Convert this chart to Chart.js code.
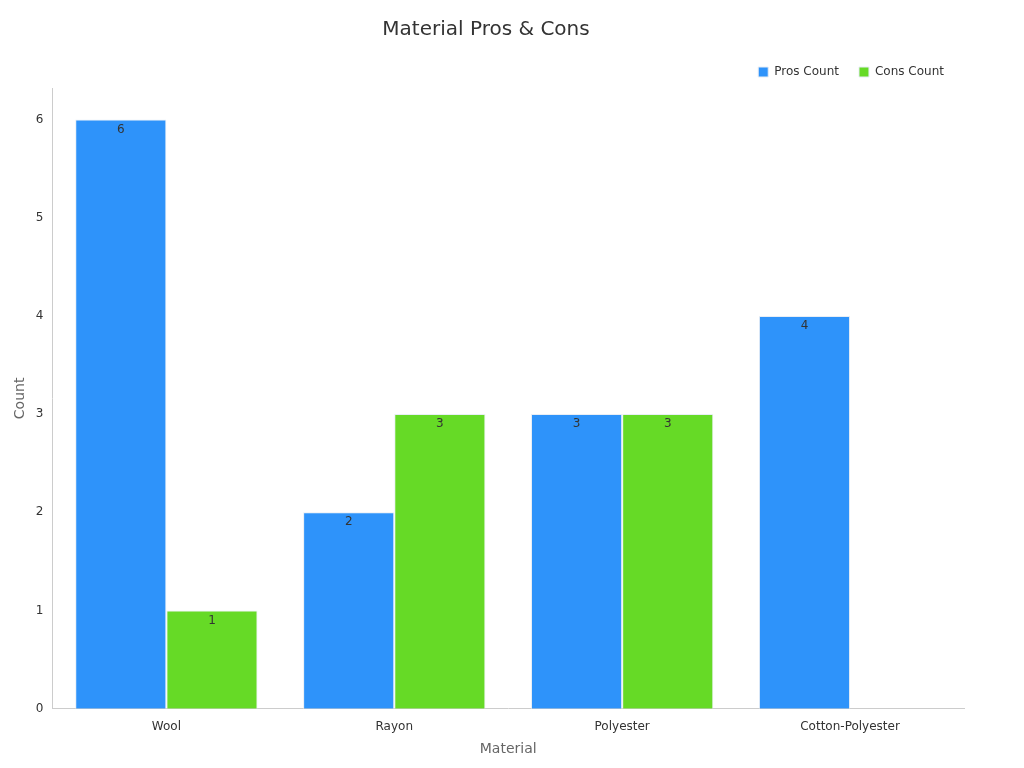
<!DOCTYPE html>
<html><head><meta charset="utf-8">
<script src="https://cdn.jsdelivr.net/npm/chart.js@4"></script>
<style>body{margin:0;background:#fff}#w{width:1024px;height:768px}</style>
</head><body><div id="w"><canvas id="c"></canvas></div>
<script>
const categories = ["Wool","Rayon","Polyester","Cotton-Polyester"];
const prosCount = [6,2,3,4];
const consCount = [1,3,3,0];
const yTicks = [0,1,2,3,4,5,6];

const labelPlugin = {
  id:'lbl',
  afterDatasetsDraw(chart){
    const ctx = chart.ctx;
    ctx.save();
    ctx.font = '12px "DejaVu Sans"';
    ctx.fillStyle = '#333';
    ctx.textAlign = 'center';
    ctx.textBaseline = 'top';
    chart.data.datasets.forEach((ds,i)=>{
      chart.getDatasetMeta(i).data.forEach((bar,j)=>{
        if(ds.data[j] > 0) ctx.fillText(String(ds.data[j]), bar.x, bar.y + 4);
      });
    });
    ctx.restore();
  }
};

new Chart(document.getElementById('c'), {
  type:'bar',
  data:{labels:categories, datasets:[
    {label:'Pros Count', data:prosCount, backgroundColor:'#2E93FA', borderColor:'#e8eef5', borderWidth:1},
    {label:'Cons Count', data:consCount, backgroundColor:'#66DA26', borderColor:'#e8eef5', borderWidth:1}
  ]},
  options:{
    responsive:true, maintainAspectRatio:false, animation:false,
    layout:{padding:{left:8,right:60,top:10,bottom:6}},
    datasets:{bar:{barPercentage:1, categoryPercentage:0.8}},
    plugins:{
      title:{display:true, text:'Material Pros & Cons', color:'#333', font:{family:'DejaVu Sans', size:20, weight:'normal'}, padding:{top:8,bottom:4}},
      legend:{align:'end', labels:{usePointStyle:true, pointStyle:'rect', boxWidth:10, boxHeight:10, color:'#333', font:{family:'DejaVu Sans', size:12}, padding:20}},
      tooltip:{enabled:false}
    },
    scales:{
      x:{grid:{display:false, drawTicks:true}, border:{color:'#ccc'},
        ticks:{color:'#333', font:{family:'DejaVu Sans', size:12}},
        title:{display:true, text:'Material', color:'#666', font:{family:'DejaVu Sans', size:14}}},
      y:{min:0, max:6.32, grid:{display:false, drawTicks:true, tickLength:6}, border:{color:'#ccc'},
        afterBuildTicks(s){ s.ticks = yTicks.map(v=>({value:v})); },
        ticks:{color:'#333', font:{family:'DejaVu Sans', size:12}},
        title:{display:true, text:'Count', color:'#666', font:{family:'DejaVu Sans', size:14}}}
    }
  },
  plugins:[labelPlugin]
});
</script></body></html>
